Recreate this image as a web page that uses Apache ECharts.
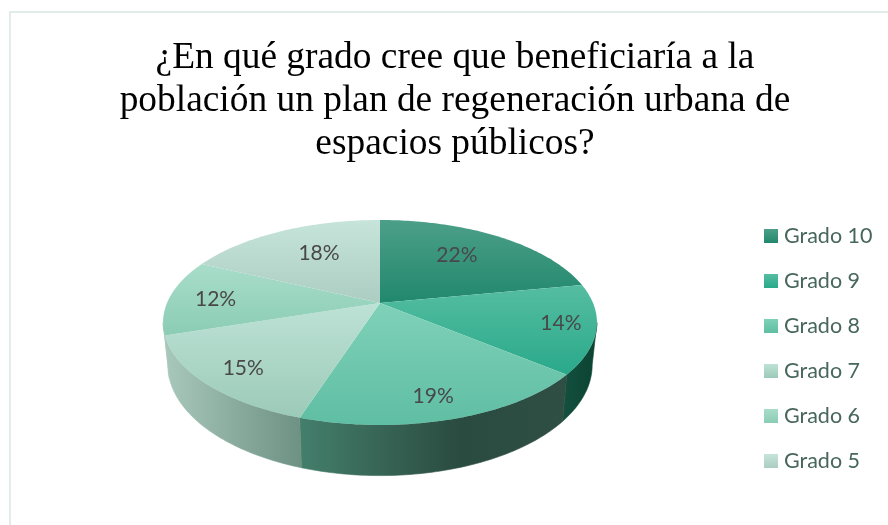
<!DOCTYPE html>
<html><head><meta charset="utf-8">
<style>html,body{margin:0;padding:0;background:#fff}#c{width:888px;height:525px}</style>
<script src="https://cdn.jsdelivr.net/npm/echarts@6/dist/echarts.min.js"></script>
</head><body><div id="c"></div>
<script>
const titleText = '¿En qué grado cree que beneficiaría a la\npoblación un plan de regeneración urbana de\nespacios públicos?';
const categories = ['Grado 10','Grado 9','Grado 8','Grado 7','Grado 6','Grado 5'];
const values = [22,14,19,15,12,18];
const labels = ['22%','14%','19%','15%','12%','18%'];

const topColors = [['#4c9f88','#21886d'],['#55bda1','#2aa98a'],['#7fd1b8','#5fbea3'],['#bde2d6','#9ccab8'],['#a8ddca','#8bccb4'],['#c6e4da','#accdc2']];
const sideColors = [['#21886d','#21886d'],['#14503f','#0c4232'],['#447f6c','#2a4b40','#2f4f44'],['#a8c8bc','#6d9182'],['#a8c8bc','#a8c8bc'],['#accdc2','#accdc2']];
const labelNudge = [[-7,-1],[36,3],[7,20],[-24,13],[-21,0],[9,1]];

const cx=380, cy=303, R=213, K=98.8, P=0.19, DROP=41, SHRINK=0.978;
const total = values.reduce((a,b)=>a+b,0);
const rad = d => d*Math.PI/180;
function upperPt(deg,r){r=r==null?1:r;const z=Math.cos(rad(deg))*r,s=Math.sin(rad(deg))*r,f=1/(1+P*z);return [cx+R*s*f,cy-K*z*f];}
function lowerPt(deg){const z=Math.cos(rad(deg)),s=Math.sin(rad(deg)),f=1/(1+P*z);return [cx+R*SHRINK*s*f,cy-K*z*f+DROP*f];}
function arc(fn,a,b){const out=[];const n=Math.max(2,Math.ceil(Math.abs(b-a)));for(let i=0;i<=n;i++)out.push(fn(a+(b-a)*i/n));return out;}
const stops=c=>c.map((col,i)=>({offset:c.length===3&&i===1?0.6:i/(c.length-1),color:col}));
const vg=c=>new echarts.graphic.LinearGradient(0,0,0,1,stops(c));
const hg=c=>new echarts.graphic.LinearGradient(0,0,1,0,stops(c));

function sliceRender(i){
  return function(params,api){
    let before=0;for(let k=0;k<i;k++)before+=values[k];
    const a=before/total*360, b=(before+api.value(0))/total*360;
    const children=[];
    const sa=Math.max(a,101), sb=Math.min(b,259);
    if(sb>sa){
      let pts=arc(d=>upperPt(d),sa,sb).concat(arc(lowerPt,sb,sa));
      children.push({type:'polygon',shape:{points:pts},style:{fill:hg(sideColors[i]),stroke:hg(sideColors[i]),lineWidth:0.6}});
    }
    const face=[[cx,cy]].concat(arc(d=>upperPt(d),a,b));
    children.push({type:'polygon',z2:2,shape:{points:face},style:{fill:vg(topColors[i]),stroke:null}});
    const m=upperPt((a+b)/2,0.68);
    children.push({type:'text',z2:5,style:{x:m[0]+labelNudge[i][0],y:m[1]+labelNudge[i][1],text:labels[i],align:'center',verticalAlign:'middle',fontFamily:'Lato',fontSize:21,fill:'#484848'}});
    return {type:'group',children};
  };
}

const chart=echarts.init(document.getElementById('c'),null,{renderer:'canvas'});
chart.setOption({
  animation:false,
  backgroundColor:'#fff',
  title:{text:titleText,left:450,top:32,textAlign:'center',textStyle:{fontFamily:'Liberation Serif',fontSize:37.4,fontWeight:'normal',color:'#000',lineHeight:43}},
  legend:{orient:'vertical',left:764,top:225,padding:0,itemWidth:14,itemHeight:14,itemGap:23,icon:'rect',
    textStyle:{fontFamily:'Lato',fontSize:21.5,lineHeight:22,color:'#47665c',padding:[0,0,0,1]},
    data:categories.map((n,i)=>({name:n,itemStyle:{color:vg(topColors[i])}}))},
  graphic:[{type:'rect',silent:true,shape:{x:10,y:12,width:900,height:600},style:{fill:'transparent',stroke:'#e4ecea',lineWidth:2}}],
  series:categories.map((n,i)=>({type:'custom',name:n,coordinateSystem:'none',data:[[values[i]]],
    itemStyle:{color:topColors[i][0]},renderItem:sliceRender(i),silent:true}))
});
</script></body></html>
